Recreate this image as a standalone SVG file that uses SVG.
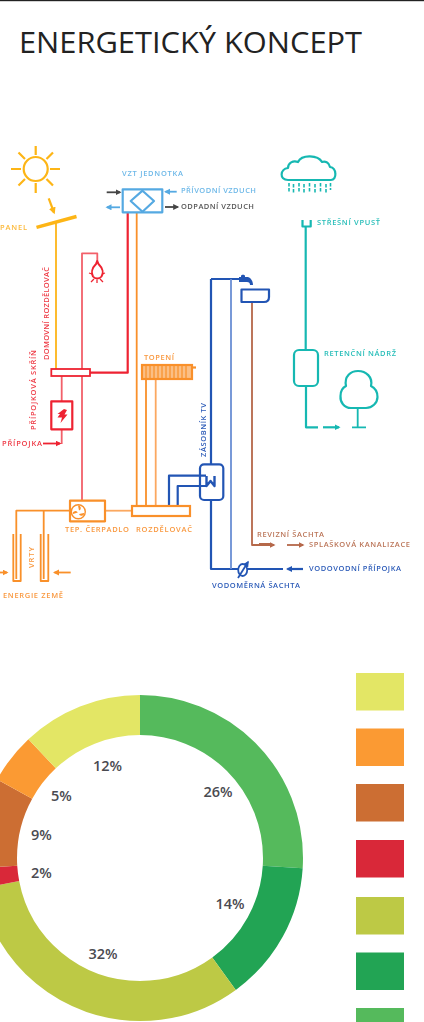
<svg xmlns="http://www.w3.org/2000/svg" width="424" height="1022" viewBox="0 0 424 1022">
<style>
text{font-family:"Open Sans","Liberation Sans",Arial,sans-serif;font-size:7.5px;font-weight:600}
.t{font-weight:400;font-size:29px;fill:#222}
.p{font-size:14.5px;font-weight:600;fill:#4a4a50}
.n{fill:none;stroke-linecap:butt;stroke-linejoin:round}
.y{stroke:#fdb515}.o{stroke:#f9902a}.ol{stroke:#fba860}.r{stroke:#ee2430}.rl{stroke:#f2606a}.b{stroke:#2455b4}.bl{stroke:#6a8ed4}.c{stroke:#55a9e2}.g{stroke:#444}.br{stroke:#b5674a}.te{stroke:#17b8b2}
.w{stroke-width:1.8}.m{stroke-width:2.200}
.ty{fill:#fcb93a}.to{fill:#f9983f}.tr{fill:#ee3a45}.tb{fill:#2c5bb8}.tc{fill:#6db8e8}.tg{fill:#555}.tbr{fill:#bb7558}.tt{fill:#25bdb8}
.seg{fill:none;stroke-width:40}
</style>
<defs>
<filter id="soft" x="-5%" y="-5%" width="110%" height="110%"><feGaussianBlur stdDeviation="0.45"/></filter>
<marker id="aO" markerWidth="7" markerHeight="7" refX="4.500" refY="3" orient="auto" markerUnits="userSpaceOnUse"><path d="M0 0L6 3L0 6z" fill="#f9902a"/></marker>
<marker id="aY" markerWidth="8" markerHeight="8" refX="5" refY="3.500" orient="auto" markerUnits="userSpaceOnUse"><path d="M0 0L7 3.500L0 7z" fill="#fdb515"/></marker>
<marker id="aR" markerWidth="7" markerHeight="7" refX="4.500" refY="3" orient="auto" markerUnits="userSpaceOnUse"><path d="M0 0L6 3L0 6z" fill="#ee2430"/></marker>
<marker id="aB" markerWidth="7" markerHeight="7" refX="4.500" refY="3" orient="auto" markerUnits="userSpaceOnUse"><path d="M0 0L6 3L0 6z" fill="#2455b4"/></marker>
<marker id="aC" markerWidth="7" markerHeight="7" refX="4.500" refY="3" orient="auto" markerUnits="userSpaceOnUse"><path d="M0 0L6 3L0 6z" fill="#55a9e2"/></marker>
<marker id="aG" markerWidth="7" markerHeight="7" refX="4.500" refY="3" orient="auto" markerUnits="userSpaceOnUse"><path d="M0 0L6 3L0 6z" fill="#444"/></marker>
<marker id="aBr" markerWidth="7" markerHeight="7" refX="4.500" refY="3" orient="auto" markerUnits="userSpaceOnUse"><path d="M0 0L6 3L0 6z" fill="#b5674a"/></marker>
<marker id="aT" markerWidth="7" markerHeight="7" refX="4.500" refY="3" orient="auto" markerUnits="userSpaceOnUse"><path d="M0 0L6 3L0 6z" fill="#17b8b2"/></marker>
</defs>
<rect width="424" height="1022" fill="#fff"/>
<rect width="424" height="1.200" fill="#222"/>
<text class="t" x="19" y="52.500" textLength="343" lengthAdjust="spacingAndGlyphs">ENERGETICKÝ KONCEPT</text>

<g id="schema" filter="url(#soft)">
<g id="connectors" class="n">
<path class="y m" d="M48.700 198.300L54 212.500" marker-end="url(#aY)"/>
<path class="y w" d="M56 222V369"/>
<path class="r m" d="M127.700 212V372.700H90"/>
<path class="o w" d="M136.700 212V506"/>
<path class="rl w" d="M82 500V253.300H97.300V261"/>
<path class="rl w" d="M61.700 376V401.300M61.700 429.300V444"/>
<path class="r w" d="M43 443.500H60" marker-end="url(#aR)"/>
<path class="o w" d="M70 510.700H16.300V534M43.700 510.700V534"/>
<path class="ol w" d="M105 510.700H132"/>
<path class="o w" d="M146 506V379"/>
<path class="ol w" d="M155.700 506V379"/>
<path class="b m" d="M169 506V475.700H200M177.700 506V486H200"/>
<path class="b m" d="M211 279H241M211 279V464.300M211 500V569H283"/>
<path class="bl w" d="M231 279V569"/>
<path class="b m" d="M303 569H287.500" marker-end="url(#aB)"/>
<path class="br w" d="M252 302V545H274" marker-end="url(#aBr)"/>
<path class="br w" d="M287 545H303" marker-end="url(#aBr)"/>
<path class="te m" d="M305.700 226V350M306 386V427.300H318"/>
<path class="te m" d="M323 427.300H339" marker-end="url(#aT)"/>
<path class="g w" d="M106.700 192.300H120" marker-end="url(#aG)"/>
<path class="c w" d="M120 207.300H107" marker-end="url(#aC)"/>
<path class="c w" d="M176.700 191.700H165.500" marker-end="url(#aC)"/>
<path class="g w" d="M165 207H177.700" marker-end="url(#aG)"/>
<path class="o w" d="M0 572.500H7" marker-end="url(#aO)"/>
<path class="o w" d="M70.700 572.500H54.500" marker-end="url(#aO)"/>
</g>
<g id="sun" class="n y m"><circle cx="35.700" cy="169" r="12"/><path d="M35.700 146V155M35.700 183V193M11 169H21M50 169H60M18.500 152.500L25 159M46.500 179L53 185.500M53 152.500L46.500 159M25 179L18.500 185.500"/></g>
<g id="panel"><path class="n y" stroke-width="3.400" stroke-linecap="round" d="M36.500 227.300L76.500 216.500"/><text class="ty" x="0" y="230" textLength="27">PANEL</text></g>
<g id="vzt"><rect class="n c m" x="122.700" y="189.300" width="39.600" height="23"/><path class="n c m" d="M130.700 201L142.500 190.700L154 201L142.500 211.700Z"/>
<text class="tc" x="122" y="176.200" textLength="61">VZT JEDNOTKA</text><text class="tc" x="181" y="193.200" textLength="75">PŘÍVODNÍ VZDUCH</text><text class="tg" x="181" y="208.700" textLength="73">ODPADNÍ VZDUCH</text></g>
<g id="bulb"><path class="n r" stroke-width="2" d="M97.300 261L96 264C92 268 91 273 93 276.500C95 279 99.500 279 101.500 276.500C104 273 102.500 268 98.500 264Z"/><path class="n r" stroke-width="1.300" d="M89 273L92 274M105 273L102 274M91 282L94 279M103 282L100 279M97 283V279.500"/></g>
<g id="domovni-rozdelovac"><text class="tr" transform="translate(48.500 360) rotate(-90)" textLength="93">DOMOVNÍ ROZDĚLOVAČ</text></g>
<g id="pripojkova-skrin"><rect x="51.300" y="369" width="38.700" height="7" fill="#fff" class="r w"/><text class="tr" transform="translate(35.500 430) rotate(-90)" textLength="80">PŘÍPOJKOVÁ SKŘÍŇ</text></g>
<g id="elektromer"><rect class="n r m" x="51.300" y="401.300" width="21" height="28"/><path fill="#ee2430" d="M64 409L67 410L64.500 414.500H67.500L60.500 423L62 417.500H57.500L60 414H57.500Z"/></g>
<g id="pripojka"><text class="tr" x="2" y="446" textLength="40">PŘÍPOJKA</text></g>
<g id="tepelne-cerpadlo"><rect class="n o m" x="70" y="500.700" width="35" height="20.600"/><circle class="n o" stroke-width="1.400" cx="78.300" cy="511.700" r="7"/><path fill="#f9902a" d="M78 505.500a2.200 2.500 0 0 1 1 5zM84 513a2.500 2.200 0 0 1-5 1zM73 514a2.500 2.200 0 0 1 4.800-1.500z"/><text class="to" x="65" y="531.700" textLength="64">TEP. ČERPADLO</text></g>
<g id="rozdelovac"><rect x="132" y="506" width="58" height="10" fill="#fff" class="o m"/><text class="to" x="136" y="531.700" textLength="56">ROZDĚLOVAČ</text></g>
<g id="topeni"><rect x="142" y="365" width="50" height="14" fill="#fbbf85" class="o m"/><path class="n o" stroke-width="1.200" d="M146 366V378M150 366V378M154 366V378M158 366V378M162 366V378M166 366V378M170 366V378M174 366V378M178 366V378M182 366V378M186 366V378"/><path class="n o m" d="M192 367.500H196"/><text class="to" x="144" y="359.700" textLength="30">TOPENÍ</text></g>
<g id="vrty"><path class="n o w" d="M13.300 534V581H20.700V534M40.700 534V581H48.300V534M16.300 534V579M43.700 534V579"/><text class="to" transform="translate(33.500 568) rotate(-90)" textLength="21">VRTY</text><text class="to" x="3" y="597.700" textLength="60">ENERGIE ZEMĚ</text></g>
<g id="zasobnik"><rect class="b m" fill="#fff" x="200" y="464.300" width="23.300" height="35.700" rx="4"/><path class="n b m" d="M200 475.700H206M200 486H206"/><path class="n b" stroke-width="2.400" d="M206.500 476V486L210.500 481L214.500 486V476"/><text class="tb" transform="translate(205.500 457) rotate(-90)" textLength="54">ZÁSOBNÍK TV</text></g>
<g id="baterie"><path fill="#2455b4" d="M239 277H241V275.500L243 274.500L245 275.500V277H248C251 278 253 281 253 285H250C250 283 249 282 247 282H239Z"/><path class="n b m" d="M241.500 289.500H269V297C269 300 267 302 264 302H241.500Z"/></g>
<g id="revizni-sachta"><path class="n br" stroke-width="1" d="M259 543.500H271"/><text class="tbr" x="257" y="536.700" textLength="67">REVIZNÍ ŠACHTA</text></g>
<g id="splaskova"><text class="tbr" x="309" y="546.700" textLength="101">SPLAŠKOVÁ KANALIZACE</text></g>
<g id="vodomer"><ellipse class="b" fill="#fff" stroke-width="1.800" cx="242.700" cy="570" rx="4.500" ry="6"/><path class="n b w" d="M238 578L248 562" marker-end="url(#aB)"/><text class="tb" x="212" y="587.700" textLength="88">VODOMĚRNÁ ŠACHTA</text></g>
<g id="vodovodni"><text class="tb" x="309" y="571.200" textLength="92">VODOVODNÍ PŘÍPOJKA</text></g>
<g id="mrak"><path class="n te m" d="M288 180H331C337 180 337 168 330 167C329 162 325 161 322 162C318 155 302 154 298 162C293 160 288 163 288 168C280 169 279 180 288 180Z"/><path class="n te" stroke-width="1.600" stroke-dasharray="3.500 1.500" d="M289 183V192M293.500 184V193M299 183V192M304 184V193M309.500 183V192M315 184V193M320.500 183V192M326 184V193M330.500 183V190"/></g>
<g id="stresni-vpust"><path class="n te m" d="M302.500 220V226.500H310.700V220"/><text class="tt" x="317" y="224.700" textLength="63">STŘEŠNÍ VPUSŤ</text></g>
<g id="retencni-nadrz"><rect x="294" y="350" width="24" height="36" rx="5" fill="#fff" class="te m"/><text class="tt" x="324" y="355.700" textLength="72">RETENČNÍ NÁDRŽ</text></g>
<g id="strom"><path class="n te m" d="M351 408C344 408 340 402 340.500 396C340.500 391 342 388 346 386C344 376 351 371 358 371C366 371 373 377 371 386C375 388 377.500 392 377.500 397C377.500 403 372 408 366 408Z"/><path class="n te w" d="M357.700 408V427.300M352 427.300H366"/></g>
</g>

<g id="donut" transform="rotate(-90 140 858)">
<circle class="seg" cx="140" cy="858" r="143" pathLength="100" stroke="#55ba5c" stroke-dasharray="26 74" stroke-dashoffset="0"/>
<circle class="seg" cx="140" cy="858" r="143" pathLength="100" stroke="#22a454" stroke-dasharray="14 86" stroke-dashoffset="-26"/>
<circle class="seg" cx="140" cy="858" r="143" pathLength="100" stroke="#bdc945" stroke-dasharray="32 68" stroke-dashoffset="-40"/>
<circle class="seg" cx="140" cy="858" r="143" pathLength="100" stroke="#d92839" stroke-dasharray="2 98" stroke-dashoffset="-72"/>
<circle class="seg" cx="140" cy="858" r="143" pathLength="100" stroke="#cc6e33" stroke-dasharray="9 91" stroke-dashoffset="-74"/>
<circle class="seg" cx="140" cy="858" r="143" pathLength="100" stroke="#fb9a33" stroke-dasharray="5 95" stroke-dashoffset="-83"/>
<circle class="seg" cx="140" cy="858" r="143" pathLength="100" stroke="#e3e665" stroke-dasharray="12 88" stroke-dashoffset="-88"/>
</g>
<g id="labels">
<text class="p" x="203.500" y="796.500">26%</text>
<text class="p" x="215.500" y="909">14%</text>
<text class="p" x="88.500" y="959">32%</text>
<text class="p" x="31" y="878">2%</text>
<text class="p" x="31" y="840">9%</text>
<text class="p" x="51" y="801">5%</text>
<text class="p" x="93" y="771">12%</text>
</g>
<g id="legend">
<rect x="356" y="673" width="48" height="37.500" fill="#e3e665"/>
<rect x="356" y="728.500" width="48" height="37.500" fill="#fb9a33"/>
<rect x="356" y="784" width="48" height="37.500" fill="#cc6e33"/>
<rect x="356" y="840" width="48" height="37.500" fill="#d92839"/>
<rect x="356" y="897" width="48" height="37.500" fill="#bdc945"/>
<rect x="356" y="952.500" width="48" height="37.500" fill="#22a454"/>
<rect x="356" y="1008" width="48" height="14" fill="#55ba5c"/>
</g>
</svg>
